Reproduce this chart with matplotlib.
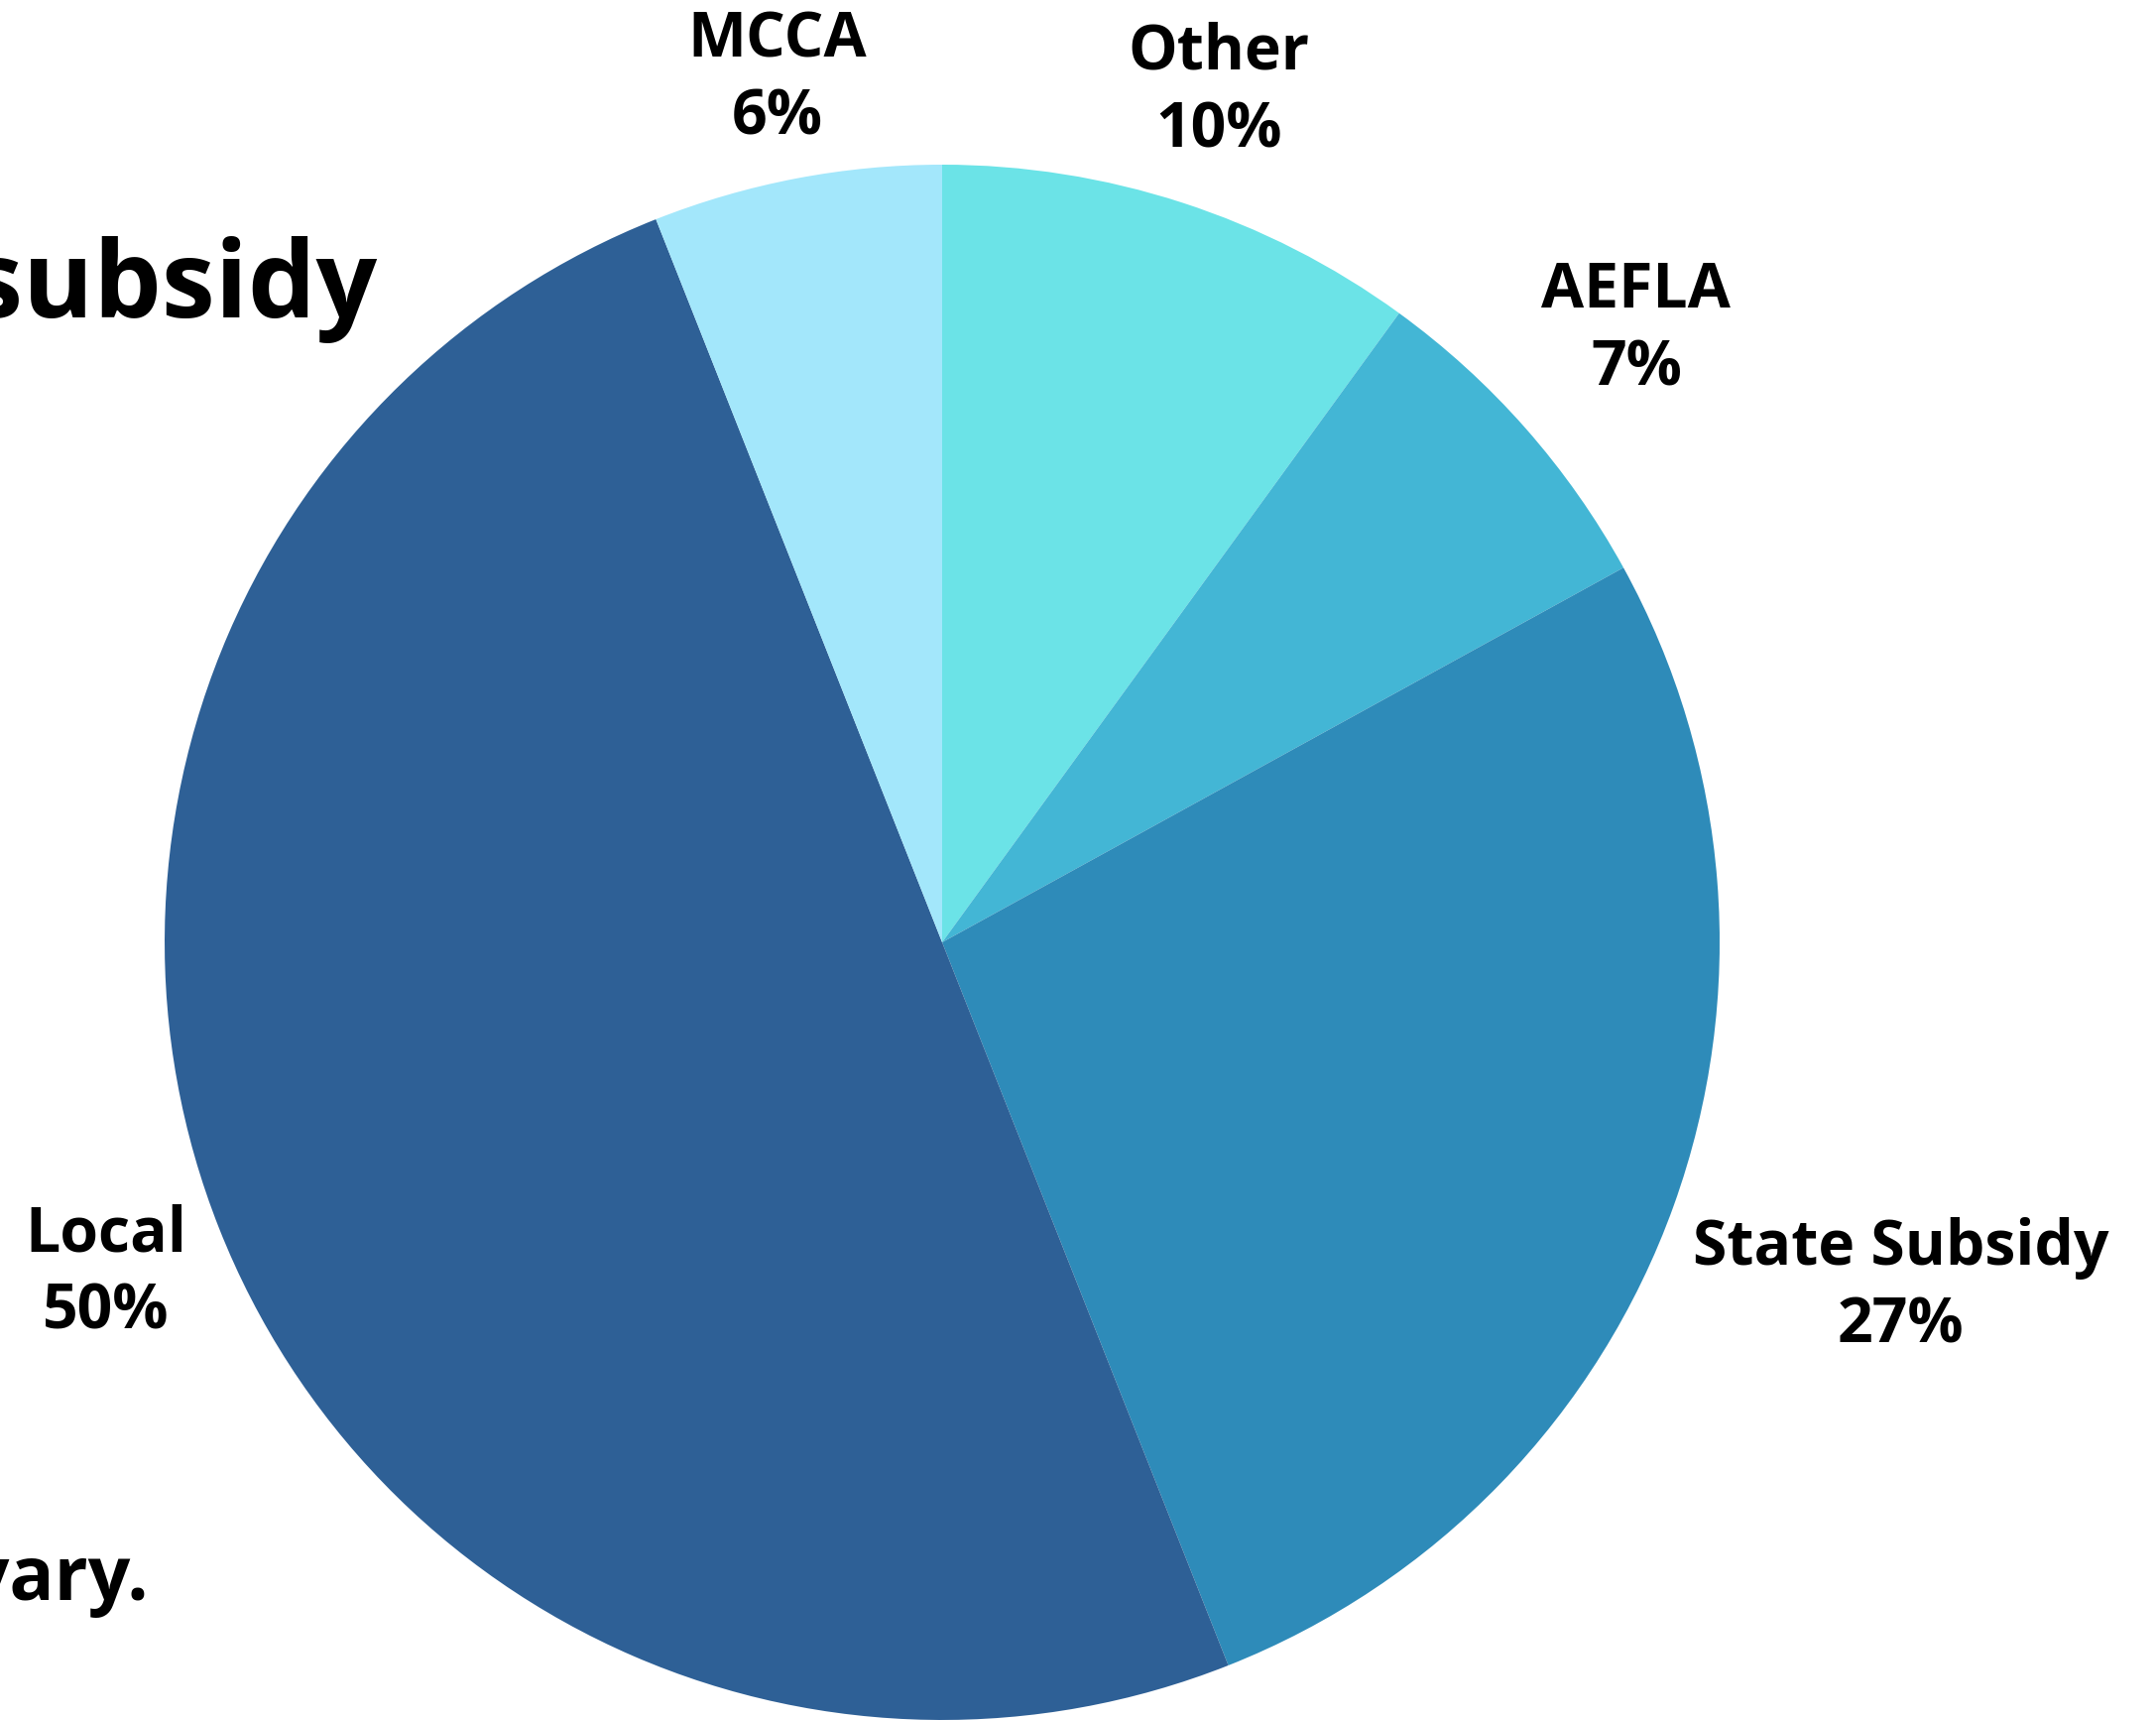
import matplotlib.pyplot as plt
import numpy as np

W, H = 2174, 1734

labels = ['Other', 'AEFLA', 'State Subsidy', 'Local', 'MCCA']
shares = [10, 7, 27, 50, 6]
colors = ['#6BE3E7', '#43B6D5', '#2E8BB9', '#2E6096', '#A3E7FB']
# how far out each label sits, in pie radii
label_dist = [1.15, 1.19, 1.31, 1.157, 1.13]

plt.rcParams['font.family'] = ['Open Sans', 'DejaVu Sans']

fig = plt.figure(figsize=(W / 100, H / 100), dpi=100)
ax = fig.add_axes([0, 0, 1, 1])

cx, cy, r = 950, H - 950, 784
wedges, _ = ax.pie(shares, colors=colors, startangle=90, counterclock=False,
                   center=(cx, cy), radius=r, frame=True,
                   wedgeprops=dict(linewidth=0))
ax.set_xlim(0, W)
ax.set_ylim(0, H)
ax.axis('off')

for w, name, val, d in zip(wedges, labels, shares, label_dist):
    ang = np.deg2rad((w.theta1 + w.theta2) / 2)
    x = cx + d * r * np.cos(ang)
    y = cy + d * r * np.sin(ang)
    ax.text(x, y, f'{name}\n{val}%', ha='center', va='center',
            fontsize=45, fontweight='bold', linespacing=1.32)

# partly cut-off heading and footnote
ax.text(380, H - 320, 'State subsidy', ha='right', va='baseline',
        fontsize=78, fontweight='bold')
ax.text(150, H - 1613, 'Percentages may vary.', ha='right', va='baseline',
        fontsize=54, fontweight='bold')

fig.savefig('out.png', dpi=100)
